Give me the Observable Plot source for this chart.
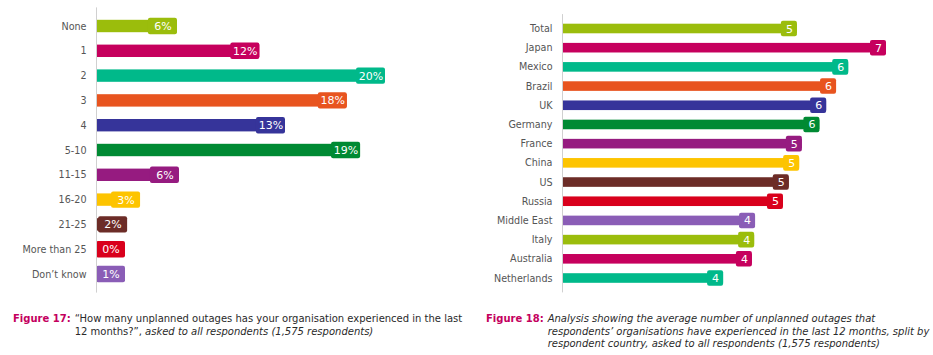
<!DOCTYPE html>
<html>
<head>
<meta charset="utf-8">
<script src="https://cdn.jsdelivr.net/npm/d3@7"></script>
<script src="https://cdn.jsdelivr.net/npm/@observablehq/plot@0.6"></script>
<style>
  html, body { margin: 0; padding: 0; background: #fff; }
  #wrap { position: relative; width: 933px; height: 355px; overflow: hidden; font-family: "DejaVu Sans", Verdana, sans-serif; }
  #left { position: absolute; left: 0; top: 0; }
  #right { position: absolute; left: 460px; top: 0; }
  .cap { position: absolute; font-size: 10px; line-height: 12.5px; color: #2a2a2a; display: flex; }
  .cap b { color: #c4005e; white-space: nowrap; margin-right: 4px; }
  .cap i { font-style: italic; }
</style>
</head>
<body>
<div id="wrap">
  <div id="left"></div>
  <div id="right"></div>
  <div class="cap" style="left:13px; top:313px;"><b>Figure 17:</b><span>“How many unplanned outages has your organisation experienced in the last<br>12 months?”, <i>asked to all respondents (1,575 respondents)</i></span></div>
  <div class="cap" style="left:486px; top:313px;"><b>Figure 18:</b><span><i>Analysis showing the average number of unplanned outages that<br>respondents’ organisations have experienced in the last 12 months, split by<br>respondent country, asked to all respondents (1,575 respondents)</i></span></div>
</div>
<script>
const palette = ["#9bbd0c", "#c6005d", "#00b98a", "#e8541f", "#36349a", "#008a33", "#961b80", "#fdc400", "#6c2c27", "#d9001c", "#8a5db6"];

const outageCategories = ["None", "1", "2", "3", "4", "5-10", "11-15", "16-20", "21-25", "More than 25", "Don’t know"];
const outageValues = [5.68, 11.46, 20.28, 17.6, 13.26, 18.53, 5.82, 3.09, 2.18, 0.1, 1.0];
const outageLabels = ["6%", "12%", "20%", "18%", "13%", "19%", "6%", "3%", "2%", "0%", "1%"];

const countries = ["Total", "Japan", "Mexico", "Brazil", "UK", "Germany", "France", "China", "US", "Russia", "Middle East", "Italy", "Australia", "Netherlands"];
const avgOutages = [5.22, 7.2, 6.36, 6.09, 5.87, 5.72, 5.33, 5.27, 5.04, 4.91, 4.29, 4.27, 4.22, 3.58];
const avgLabels = ["5", "7", "6", "6", "6", "6", "5", "5", "5", "5", "4", "4", "4", "4"];

const leftData = outageCategories.map((c, i) => ({cat: c, v: outageValues[i], label: outageLabels[i], color: palette[i % palette.length]}));
const rightData = countries.map((c, i) => ({cat: c, v: avgOutages[i], label: avgLabels[i], color: palette[i % palette.length]}));

function chart(data, o) {
  const xMax = d3.max(data, d => d.v);
  const minBox = o.boxW / ((o.width - o.marginLeft - o.marginRight) / xMax);
  const boxEnd = d => Math.max(d.v, minBox);
  return Plot.plot({
    width: o.width,
    height: o.height,
    marginLeft: o.marginLeft,
    marginRight: o.marginRight,
    marginTop: o.marginTop,
    marginBottom: o.marginBottom,
    style: {fontFamily: "'DejaVu Sans', Verdana, sans-serif", fontSize: o.catFont, color: "#555", background: "white"},
    x: {domain: [0, xMax], axis: null},
    y: {domain: data.map(d => d.cat), padding: 0.5, round: false, tickSize: 0, tickPadding: 10, label: null},
    color: {type: "identity"},
    marks: [
      Plot.barX(data, {y: "cat", x1: 0, x2: "v", fill: "color"}),
      Plot.barX(data, {y: "cat", x1: boxEnd, x2: boxEnd, fill: "color", insetLeft: -o.boxW, insetTop: -o.boxPad, insetBottom: -o.boxPad, rx: 2}),
      Plot.text(data, {y: "cat", x: boxEnd, text: "label", dx: -o.boxW / 2, fill: "white", fontSize: 11, textAnchor: "middle"}),
      Plot.ruleX([0], {stroke: "#d0d0d0"})
    ]
  });
}

document.getElementById("left").append(chart(leftData, {
  width: 460, height: 300, marginLeft: 96, marginRight: 75, marginTop: 7.4, marginBottom: 7.4,
  boxW: 29, boxPad: 2, catFont: "9.6px"
}));
document.getElementById("right").append(chart(rightData, {
  width: 473, height: 300, marginLeft: 102, marginRight: 47, marginTop: 14.1, marginBottom: 7.6,
  boxW: 16, boxPad: 3, catFont: "9.6px"
}));
</script>
</body>
</html>
